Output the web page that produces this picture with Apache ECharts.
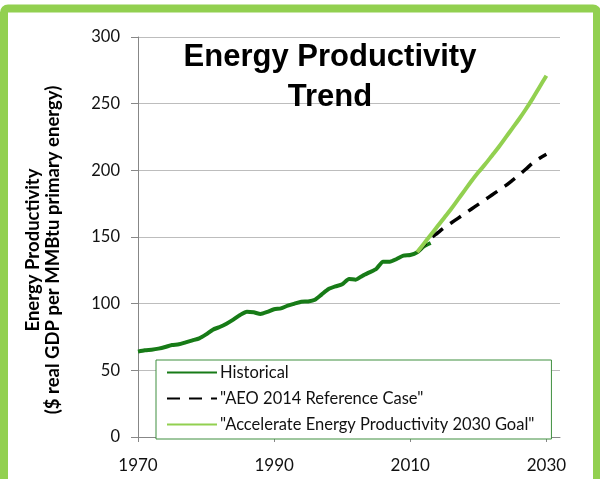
<!DOCTYPE html>
<html>
<head>
<meta charset="utf-8">
<script src="https://cdn.jsdelivr.net/npm/echarts@6/dist/echarts.min.js"></script>
<style>html,body{margin:0;padding:0;background:#fff;}#c{width:600px;height:479px;}</style>
</head>
<body>
<div id="c"></div>
<script>
// Data
const histYears = [1970,1971,1972,1973,1974,1975,1976,1977,1978,1979,1980,1981,1982,1983,1984,1985,1986,1987,1988,1989,1990,1991,1992,1993,1994,1995,1996,1997,1998,1999,2000,2001,2002,2003,2004,2005,2006,2007,2008,2009,2010,2011,2012,2013];
const histValues = [64,65,65.5,66.3,67.5,69,69.5,71,72.5,74,77,80.5,82.5,85,88,91.5,94,93.5,92.3,93.8,95.8,96.5,98.5,100,101.5,101.7,103,107,111,113,114.5,118.5,118,121,123.5,126,131.5,131.5,133.5,136,136.5,138.5,143,145.5];
const projYears = [2011,2012,2013,2014,2015,2016,2017,2018,2019,2020,2021,2022,2023,2024,2025,2026,2027,2028,2029,2030];
const aeoValues = [138.5,144,149,153,157,160.5,164,167.5,171,174.5,178,181.5,185,188.5,192.5,196.5,201,205.5,209,212];
const goalValues = [138.5,145,151.5,158,164.5,171,178,185,192,198.5,204.5,211,217.5,224.5,231.5,238.5,246,254,262.5,271];
const xTicks = [1970,1990,2010,2030];
const seriesNames = ['Historical','"AEO 2014 Reference Case"','"Accelerate Energy Productivity 2030 Goal"'];

function pairs(xs, ys){ return xs.map((x,i)=>[x, ys[i]]); }

const chart = echarts.init(document.getElementById('c'), null, {renderer:'canvas'});
chart.setOption({
  animation:false,
  backgroundColor:'#fff',
  grid:{left:138, right:40, top:37, bottom:42, containLabel:false},
  xAxis:{
    type:'value', min:1970, max:2032,
    axisLine:{show:true, lineStyle:{color:'#878787', width:1}},
    axisTick:{show:true, length:5, lineStyle:{color:'#878787'}, customValues:xTicks},
    axisLabel:{customValues:xTicks, margin:20, fontSize:17, fontFamily:'Lato', color:'#111',
      formatter:function(v){return String(v);}},
    splitLine:{show:false}
  },
  yAxis:{
    type:'value', min:0, max:300, interval:50,
    axisLine:{show:true, lineStyle:{color:'#878787', width:1}},
    axisTick:{show:true, length:7, lineStyle:{color:'#878787'}},
    axisLabel:{margin:18, fontSize:16.5, fontFamily:'Lato', color:'#111'},
    splitLine:{show:true, lineStyle:{color:'#BDBDBD', width:1}}
  },
  legend:{
    orient:'vertical', left:156, top:360,
    itemWidth:50, itemHeight:14, itemGap:9,
    padding:[4,17,6,10],
    backgroundColor:'#fff', borderColor:'#3F8F3F', borderWidth:1,
    itemStyle:{opacity:0, borderWidth:0},
    textStyle:{fontSize:16.5, fontFamily:'Lato', color:'#111', padding:[0,0,0,-2]},
    data:seriesNames
  },
  series:[
    {name:seriesNames[0], type:'line', data:pairs(histYears, histValues), symbol:'none', z:2, smooth:0.2,
     lineStyle:{color:'#177B17', width:4}, itemStyle:{color:'#177B17'}},
    {name:seriesNames[1], type:'line', data:pairs(projYears, aeoValues), symbol:'none', z:3, smooth:0.3,
     lineStyle:{color:'#000', width:3.5, type:[13,9]}, itemStyle:{color:'#000'}},
    {name:seriesNames[2], type:'line', data:pairs(projYears, goalValues), symbol:'none', z:4, smooth:0.3,
     lineStyle:{color:'#92D050', width:4}, itemStyle:{color:'#92D050'}}
  ],
  graphic:[
    {type:'text', x:330, y:77, z:10, style:{text:'Energy Productivity\nTrend', textAlign:'center', textVerticalAlign:'middle',
      fontSize:31, fontWeight:'bold', fontFamily:'Liberation Sans', lineHeight:40, fill:'#000'}},
    {type:'text', x:43, y:250, rotation:Math.PI/2, z:10, style:{text:'Energy Productivity\n($ real GDP per MMBtu primary energy)', textAlign:'center', textVerticalAlign:'middle',
      fontSize:18.5, fontWeight:'bold', fontFamily:'Lato', lineHeight:20, fill:'#000'}},
    {type:'rect', z:20, shape:{x:4, y:8.5, width:593, height:520, r:4}, style:{fill:'none', stroke:'#92D050', lineWidth:8}}
  ]
});
</script>
</body>
</html>
